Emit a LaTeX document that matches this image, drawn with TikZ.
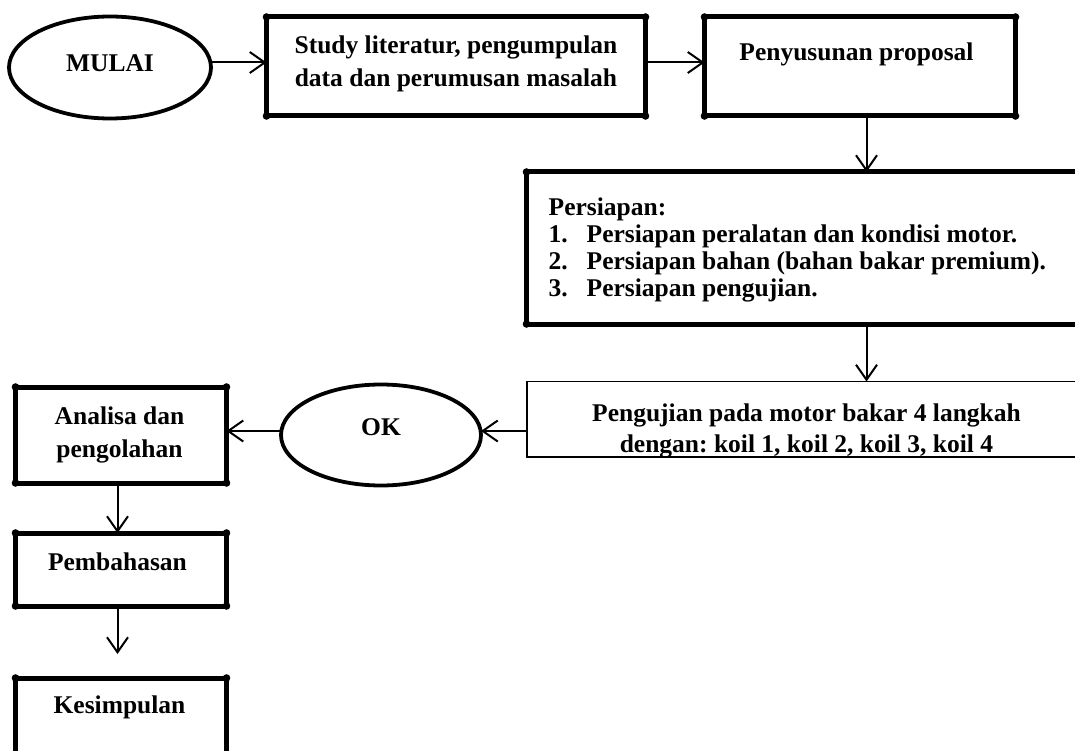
\documentclass[tikz,border=0pt]{standalone}
\usepackage{fontspec}
\setmainfont{Liberation Serif}
\frenchspacing
\usetikzlibrary{positioning}
\usetikzlibrary{arrows.meta}
\usetikzlibrary{shapes.geometric}

\tikzset{
	terminal/.style={ellipse, draw=black, line width=3.8pt, inner sep=0pt, outer sep=0pt, font=\bfseries\fontsize{25.5}{28}\selectfont},
	stepbox/.style={rectangle, draw=black, line width=5pt, inner sep=0pt, outer sep=0pt},
	thinbox/.style={rectangle, draw=black, line width=1.8pt, inner sep=0pt, outer sep=0pt},
	boxtext/.style={inner sep=0pt, align=center, font=\bfseries\fontsize{25.5}{#1}\selectfont},
	boxtext/.default=28,
	flow/.style={line width=2pt, -{Straight Barb[length=15pt, width=21pt]}},
}

\begin{document}
\begin{tikzpicture}[x=1pt, y=1pt]
	\useasboundingbox (0,0) rectangle (1075,-751);
	\clip (0,0) rectangle (1075,-751);

	\node[terminal, minimum width=202pt, minimum height=102pt, text depth=8pt] (Mulai) at (110,-67.5) {MULAI};
	\node[stepbox, minimum width=379pt, minimum height=99pt] (Study) [right=55.5pt of Mulai, yshift=1pt] {};
	\node[stepbox, minimum width=311pt, minimum height=99pt] (Proposal) [right=59pt of Study] {};
	\node[stepbox, minimum width=560pt, minimum height=152pt] (Persiapan) [below=56pt of Proposal, xshift=-53.5pt] {};
	\node[thinbox, minimum width=559pt, minimum height=75.5pt] (Pengujian) [below=57.5pt of Persiapan] {};
	\node[terminal, minimum width=200pt, minimum height=101pt, text depth=16pt] (OK) [left=46pt of Pengujian, yshift=-15.75pt] {OK};
	\node[stepbox, minimum width=211pt, minimum height=96pt] (Analisa) [left=54.5pt of OK] {};
	\node[stepbox, minimum width=211pt, minimum height=73pt] (Pembahasan) [below=50pt of Analisa] {};
	\node[stepbox, minimum width=211pt, minimum height=100pt] (Kesimpulan) [below=72pt of Pembahasan] {};

	\node[boxtext=33] (StudyText) [below=19pt of Study.north] {Study literatur, pengumpulan\\data dan perumusan masalah};
	\node[boxtext] (ProposalText) [below=26pt of Proposal.north, xshift=-3.5pt] {Penyusunan proposal};
	\node[boxtext=27, align=left] (PersiapanText) [below right=26pt and 22pt of Persiapan.north west] {Persiapan:\\
		\makebox[38pt][l]{1.}Persiapan peralatan dan kondisi motor.\\
		\makebox[38pt][l]{2.}Persiapan bahan (bahan bakar premium).\\
		\makebox[38pt][l]{3.}Persiapan pengujian.};
	\node[boxtext=31] (PengujianText) [below=22pt of Pengujian.north] {Pengujian pada motor bakar 4 langkah\\dengan: koil 1, koil 2, koil 3, koil 4};
	\node[boxtext=33] (AnalisaText) [below=20pt of Analisa.north, xshift=-1.5pt] {Analisa dan\\pengolahan};
	\node[boxtext] (PembahasanText) [below=20pt of Pembahasan.north, xshift=-3.5pt] {Pembahasan};
	\node[boxtext] (KesimpulanText) [below=18pt of Kesimpulan.north, xshift=-1.5pt] {Kesimpulan};

	\foreach \b in {Study,Proposal,Persiapan,Analisa,Pembahasan,Kesimpulan}
		\foreach \c in {north west,north east,south west,south east}
			\fill (\b.\c) circle (3.8pt);

	\coordinate (rowy) at ([yshift=5pt]Mulai.center);
	\coordinate (colx) at ([xshift=6.5pt]Proposal.south);
	\coordinate (backy) at ([yshift=4pt]OK.center);
	\coordinate (downx) at ([xshift=-3.5pt]Analisa.south);
	\draw[flow] (rowy -| Mulai.east) -- (rowy -| Study.west);
	\draw[flow] (rowy -| Study.east) -- (rowy -| Proposal.west);
	\draw[flow] (colx) -- (colx |- Persiapan.north);
	\draw[flow] (colx |- Persiapan.south) -- (colx |- Pengujian.north);
	\draw[flow] (backy -| Pengujian.west) -- (backy -| OK.east);
	\draw[flow] (backy -| OK.west) -- (backy -| Analisa.east);
	\draw[flow] (downx) -- (downx |- Pembahasan.north);
	\draw[flow, shorten >=24pt] (downx |- Pembahasan.south) -- (downx |- Kesimpulan.north);
\end{tikzpicture}
\end{document}
